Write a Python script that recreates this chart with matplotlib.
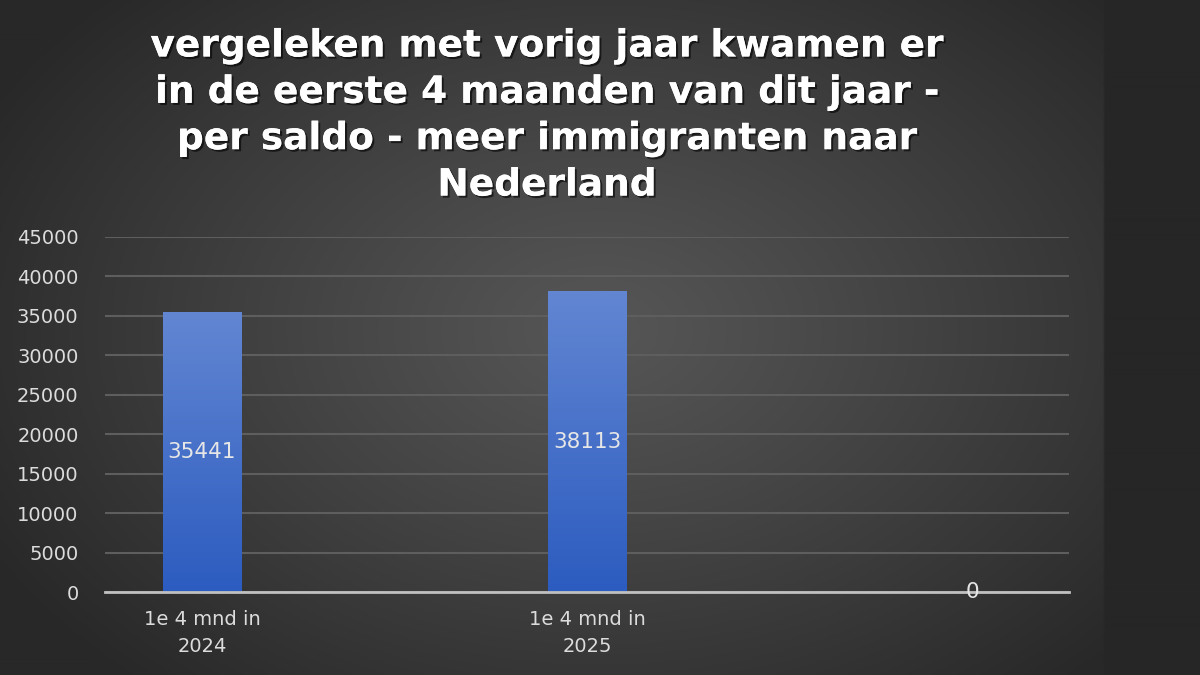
import numpy as np
import matplotlib
matplotlib.use("Agg")
import matplotlib.pyplot as plt
import matplotlib.patheffects as pe

# ---- data ----
categories = ["1e 4 mnd in\n2024", "1e 4 mnd in\n2025", ""]
values = [35441, 38113, 0]
yticks = [0, 5000, 10000, 15000, 20000, 25000, 30000, 35000, 40000, 45000]
title = ("vergeleken met vorig jaar kwamen er\n"
         "in de eerste 4 maanden van dit jaar -\n"
         "per saldo - meer immigranten naar\n"
         "Nederland")

W, H = 1200, 675
fig = plt.figure(figsize=(W / 100, H / 100), dpi=100)

# ---- background: radial gradient + dark right strip ----
bg = fig.add_axes([0, 0, 1, 1], zorder=-10)
xx, yy = np.meshgrid(np.linspace(0, W, 600), np.linspace(0, H, 340))
r = np.sqrt(((xx - 600) / 700) ** 2 + ((yy - 330) / 480) ** 2)
r = np.clip(r, 0, 1)
c_in, c_out = 0x56 / 255, 0x28 / 255
val = c_in + (c_out - c_in) * r ** 1.1
img = np.dstack([val, val, val])
img[xx > 1104] = 0x26 / 255
bg.imshow(img, extent=[0, W, H, 0], aspect="auto", interpolation="bilinear")
bg.set_xlim(0, W)
bg.set_ylim(H, 0)
bg.axis("off")

# ---- main axes ----
ax = fig.add_axes([105 / W, (H - 592) / H, (1069 - 105) / W, (592 - 237) / H])
ax.patch.set_alpha(0)
x = np.arange(len(categories))
bars = ax.bar(x, values, width=0.203, color="#4472c4", zorder=3)

# gradient fill for bars
grad = np.linspace(0, 1, 256).reshape(-1, 1)
top_c = np.array([0x62, 0x86, 0xd2]) / 255
bot_c = np.array([0x2c, 0x5c, 0xc0]) / 255
gimg = top_c * (1 - grad[..., None]) + bot_c * grad[..., None]
for b in bars:
    if b.get_height() <= 0:
        continue
    x0, y0 = b.get_x(), b.get_y()
    w, h = b.get_width(), b.get_height()
    im = ax.imshow(gimg, extent=[x0, x0 + w, y0, y0 + h], aspect="auto",
                   zorder=4, interpolation="bilinear")
    im.set_clip_path(b)

ax.set_xlim(-0.252, 2.252)
ax.set_ylim(0, 45000)
ax.set_yticks(yticks)
ax.set_yticklabels([str(t) for t in yticks], fontsize=14, color="#dcdcdc",
                   fontfamily="DejaVu Sans")
ax.set_xticks(x)
ax.set_xticklabels(categories, fontsize=14, color="#dcdcdc",
                   fontfamily="DejaVu Sans", linespacing=1.5)
ax.tick_params(axis="both", length=0)
ax.tick_params(axis="y", pad=19)
ax.tick_params(axis="x", pad=13)
ax.grid(axis="y", color="#5e5e5e", linewidth=1.5, zorder=0)
for s in ["top", "right", "left"]:
    ax.spines[s].set_visible(False)
ax.spines["bottom"].set_color("#c0c0c0")
ax.spines["bottom"].set_linewidth(2)
ax.spines["bottom"].set_zorder(5)

# data labels
for xi, v in zip(x, values):
    ax.text(xi, v / 2, str(v), ha="center", va="center", fontsize=15.5,
            color="#e6e6e6", fontfamily="DejaVu Sans", zorder=6)

# ---- title ----
fig.text(547 / W, 1 - 116 / H, title, ha="center", va="center",
         fontsize=27, fontweight="bold", color="white",
         fontfamily="DejaVu Sans", linespacing=1.37,
         path_effects=[pe.withSimplePatchShadow(offset=(1.5, -1.5),
                                                shadow_rgbFace="black",
                                                alpha=0.6), pe.Normal()])

fig.savefig("out.png", dpi=100)
